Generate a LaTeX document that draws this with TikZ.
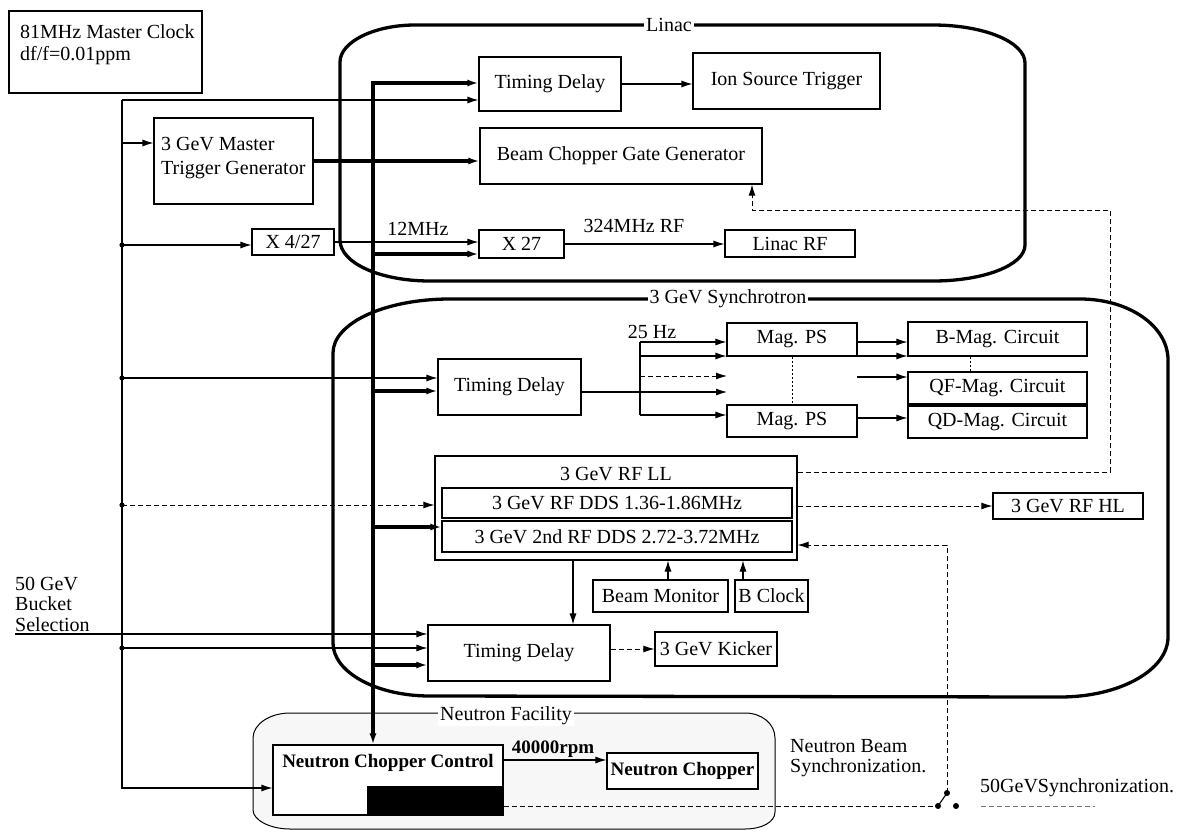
\documentclass[tikz,border=0pt]{standalone}
\usepackage{fontspec}
\setmainfont{Liberation Serif}
\usetikzlibrary{arrows.meta}
\begin{document}
\begin{tikzpicture}[x=1pt,y=-1pt,
  >={Latex[length=11pt,width=7pt]},
  every node/.style={font=\fontsize{20}{22}\selectfont, inner sep=0pt},
  box/.style={draw, line width=1.1pt, fill=white},
  bfont/.style={font=\fontsize{19}{21}\selectfont\bfseries},
  sig/.style={line width=1.1pt},
  bus/.style={line width=3.3pt},
  dsh/.style={line width=1pt, dash pattern=on 5pt off 3pt},
  dotl/.style={line width=0.9pt, dash pattern=on 2pt off 2pt},
  region/.style={line width=3.3pt},
  brdlabel/.style={fill=white, inner xsep=2pt, inner ysep=1pt}]
\useasboundingbox (0,0) rectangle (1181,831);

% ---------- regions ----------
\draw[line width=1pt, fill=black!3] (253,738) .. controls (253,724) and (270,713) .. (290,713) -- (745,713)
  .. controls (762,713) and (775,724) .. (775,738) -- (775,812)
  .. controls (775,822) and (762,829) .. (745,829) -- (290,829)
  .. controls (270,829) and (253,820) .. (253,810) -- cycle;
\draw[region] (340,62) .. controls (340,42) and (374,25) .. (415,25) -- (933,25)
  .. controls (984,25) and (1025,42) .. (1025,63) -- (1025,245)
  .. controls (1025,265) and (984,281) .. (933,281) -- (430,281)
  .. controls (380,281) and (340,263) .. (340,240) -- cycle;
\draw[region] (333,353) .. controls (333,323) and (385,299) .. (450,299) -- (1080,299)
  .. controls (1129,299) and (1168,326) .. (1168,360) -- (1168,637)
  .. controls (1168,670) and (1120,697) .. (1060,697) -- (430,696)
  .. controls (376,696) and (333,672) .. (333,643) -- cycle;
\node[brdlabel] (linl) at (669,25) {Linac};
\node[brdlabel] (synl) at (728,299) {3 GeV Synchrotron};
\node[brdlabel] (nfl) at (506,716) {Neutron Facility};

% ---------- boxes ----------
\node[box,minimum width=193pt,minimum height=82pt] (clk) at (105.5,52) {};
\node[anchor=base west] (clk1) at (20,38) {81MHz Master Clock};
\node[anchor=base west] (clk2) at (20,60) {df/f=0.01ppm};

\node[box,minimum width=159pt,minimum height=86pt] (trig) at (233.5,161) {};
\node[anchor=base west] (trig1) at (161,150) {3 GeV Master};
\node[anchor=base west] (trig2) at (161,174) {Trigger Generator};

\node[box,minimum width=82pt,minimum height=26pt] (x427) at (293,242) {X 4/27};
\node[box,minimum width=142pt,minimum height=54pt] (tdl) at (550,84) {Timing Delay};
\node[box,minimum width=187pt,minimum height=56pt] (ion) at (786.5,81) {Ion Source Trigger};
\node[box,minimum width=282pt,minimum height=56pt] (bcg) at (621,156) {Beam Chopper Gate Generator};
\node[box,minimum width=85pt,minimum height=28pt] (x27) at (521.5,244) {X 27};
\node[box,minimum width=130pt,minimum height=27pt] (lrf) at (790,243.5) {Linac RF};

\node[box,minimum width=143pt,minimum height=56pt] (tds) at (509.5,387) {Timing Delay};
\node[box,minimum width=130pt,minimum height=33pt] (ps1) at (792,339.5) {Mag. PS};
\node[box,minimum width=130pt,minimum height=32pt] (ps2) at (792,421) {Mag. PS};
\node[box,minimum width=179pt,minimum height=34pt] (bmag) at (997.5,339) {B-Mag. Circuit};
\node[box,minimum width=179pt,minimum height=32pt] (qf) at (997.5,388) {QF-Mag. Circuit};
\node[box,minimum width=179pt,minimum height=32pt] (qd) at (997.5,422) {QD-Mag. Circuit};

\node[box,minimum width=362pt,minimum height=104pt] (rfll) at (616,508) {};
\node (rfllt) at (616,474) {3 GeV RF LL};
\node[box,minimum width=350pt,minimum height=30pt] (dds1) at (617,503) {3 GeV RF DDS 1.36-1.86MHz};
\node[box,minimum width=350pt,minimum height=31pt] (dds2) at (617,536.5) {3 GeV 2nd RF DDS 2.72-3.72MHz};
\node[box,minimum width=150pt,minimum height=26pt] (rfhl) at (1068,506) {3 GeV RF HL};
\node[box,minimum width=135pt,minimum height=32pt] (bmon) at (660.5,596) {Beam Monitor};
\node[box,minimum width=73pt,minimum height=32pt] (bclk) at (771.5,596) {B Clock};
\node[box,minimum width=182pt,minimum height=56pt] (td3) at (519,653) {Timing Delay};
\node[box,minimum width=122pt,minimum height=34pt] (kick) at (716,649) {3 GeV Kicker};

\node[box,minimum width=230pt,minimum height=70pt] (ncc) at (388,780) {};
\fill (367,786) rectangle (503,815);
\node[bfont] (ncct) at (388,763) {Neutron Chopper Control};
\node[box,bfont,minimum width=151pt,minimum height=36pt] (nch) at (682.5,771) {Neutron Chopper};

% ---------- free labels ----------
\node (l12) at (418,229) {12MHz};
\node (l324) at (634,226) {324MHz RF};
\node (l25) at (652,332) {25 Hz};
\node[bfont] (lrpm) at (553,749) {40000rpm};
\node[anchor=base west] (bk1) at (15,590) {50 GeV};
\node[anchor=base west] (bk2) at (15,610) {Bucket};
\node[anchor=base west] (bk3) at (15,631) {Selection};
\node[anchor=base west] (nb1) at (790,752) {Neutron Beam};
\node[anchor=base west] (nb2) at (790,772) {Synchronization.};
\node[anchor=base west] (s50) at (980,792) {50GeVSynchronization.};

% ---------- left (thin) bus ----------
\coordinate (lb0) at (122,100);
\coordinate (lb1) at (122,143);
\coordinate (lb2) at (122,245);
\coordinate (lb3) at (122,378);
\coordinate (lb4) at (122,505);
\coordinate (lb5) at (122,648);
\coordinate (lb6) at (122,788);
\draw[sig,->] (lb0) -- (lb0 -| tdl.west);
\draw[sig,->] (lb0) -- (lb6) -- (lb6 -| ncc.west);
\draw[sig,->] (lb1) -- (lb1 -| trig.west);
\draw[sig,->] (lb2) -- (lb2 -| x427.west);
\draw[sig,->] (lb3) -- (lb3 -| tds.west);
\draw[dsh,->] (lb4) -- (lb4 -| rfll.west);
\draw[sig,->] (lb5) -- (lb5 -| td3.west);
\foreach \p in {lb2,lb3,lb4,lb5} \fill (\p) circle[radius=2.6pt];
\coordinate (bk) at (15,634);
\draw[sig,->] (bk) -- (bk -| td3.west);

% ---------- thick bus ----------
\coordinate (tb0) at (373,83);
\coordinate (tb1) at (373,161);
\coordinate (tb2) at (373,254);
\coordinate (tb3) at (373,391);
\coordinate (tb4) at (373,527);
\coordinate (tb5) at (373,665);
\draw[bus,->] (trig.east) -- (trig.east -| bcg.west);
\draw[bus,->] (tb1) -- (tb0) -- (tb0 -| tdl.west);
\draw[bus,->] (tb1) -- (tb1 |- ncc.north);
\draw[bus,->] (tb2) -- (tb2 -| x27.west);
\draw[bus,->] (tb3) -- (tb3 -| tds.west);
\draw[bus,->] (tb4) -- (tb4 -| dds2.west);
\draw[bus,->] (tb5) -- (tb5 -| td3.west);

% ---------- linac ----------
\draw[sig,->] (tdl.east) -- (tdl.east -| ion.west);
\draw[sig,->] (x427.east) -- (x427.east -| x27.west);
\draw[sig,->] (x27.east) -- (x27.east -| lrf.west);

% ---------- synchrotron magnets ----------
\coordinate (sp0) at (640,342);
\coordinate (sp1) at (640,356);
\coordinate (sp2) at (640,376);
\coordinate (sp3) at (640,392);
\coordinate (sp4) at (640,415);
\coordinate (gp2) at (727,376);
\coordinate (gp3) at (727,392);
\coordinate (rq) at (857,377);
\coordinate (rd) at (857,418);
\coordinate (rb) at (857,356);
\draw[sig] (tds.east |- sp3) -- (sp3);
\draw[sig] (sp0) -- (sp4);
\draw[sig,->] (sp0) -- (sp0 -| ps1.west);
\draw[sig,->] (sp1) -- (sp1 -| ps1.west);
\draw[dsh,->] (sp2) -- (gp2);
\draw[sig,->] (sp3) -- (gp3);
\draw[sig,->] (sp4) -- (sp4 -| ps2.west);
\draw[sig,->] (ps1.east |- sp0) -- (bmag.west |- sp0);
\draw[sig,->] (rb) -- (rb -| bmag.west);
\draw[sig,->] (rq) -- (rq -| qf.west);
\draw[sig,->] (rd) -- (rd -| qd.west);
\draw[dotl] (ps1.south) -- (ps2.north);
\draw[dotl] ([xshift=-27.5pt]bmag.south) -- ([xshift=-27.5pt]qf.north);

% ---------- RF ----------
\draw[dsh,->] (rfll.east |- rfhl.west) -- (rfhl.west);
\coordinate (fb1) at (1110,472);
\coordinate (fb2) at (1110,210);
\coordinate (fb3) at (752,210);
\draw[dsh,->] (rfll.east |- fb1) -- (fb1) -- (fb2) -- (fb3) -- (fb3 |- bcg.south);
\draw[sig,->] ([xshift=-43pt]rfll.south) -- ([xshift=-43pt]rfll.south |- td3.north);
\draw[sig,->] ([xshift=7.5pt]bmon.north) -- ([xshift=7.5pt]bmon.north |- rfll.south);
\draw[sig,->] ([xshift=-28.5pt]bclk.north) -- ([xshift=-28.5pt]bclk.north |- rfll.south);
\draw[dsh,->] (td3.east |- kick.west) -- (kick.west);

% ---------- neutron / switch ----------
\coordinate (nl) at (503,760);
\draw[sig,->] (ncc.east |- nl) -- (nch.west |- nl);
\coordinate (sw0) at (947,793);
\coordinate (sw1) at (938,806);
\coordinate (sw2) at (956,806);
\coordinate (sw3) at (947,545);
\coordinate (s50e) at (1095,806);
\draw[dsh,->] (sw0) -- (sw3) -- (sw3 -| rfll.east);
\draw[dsh] (ncc.east |- sw1) -- (sw1);
\draw[sig] (sw0) -- (sw1);
\draw[dsh,black!55,shorten <=25pt] (sw2) -- (s50e);
\foreach \p in {sw0,sw1,sw2} \fill (\p) circle[radius=3pt];
\end{tikzpicture}
\end{document}
